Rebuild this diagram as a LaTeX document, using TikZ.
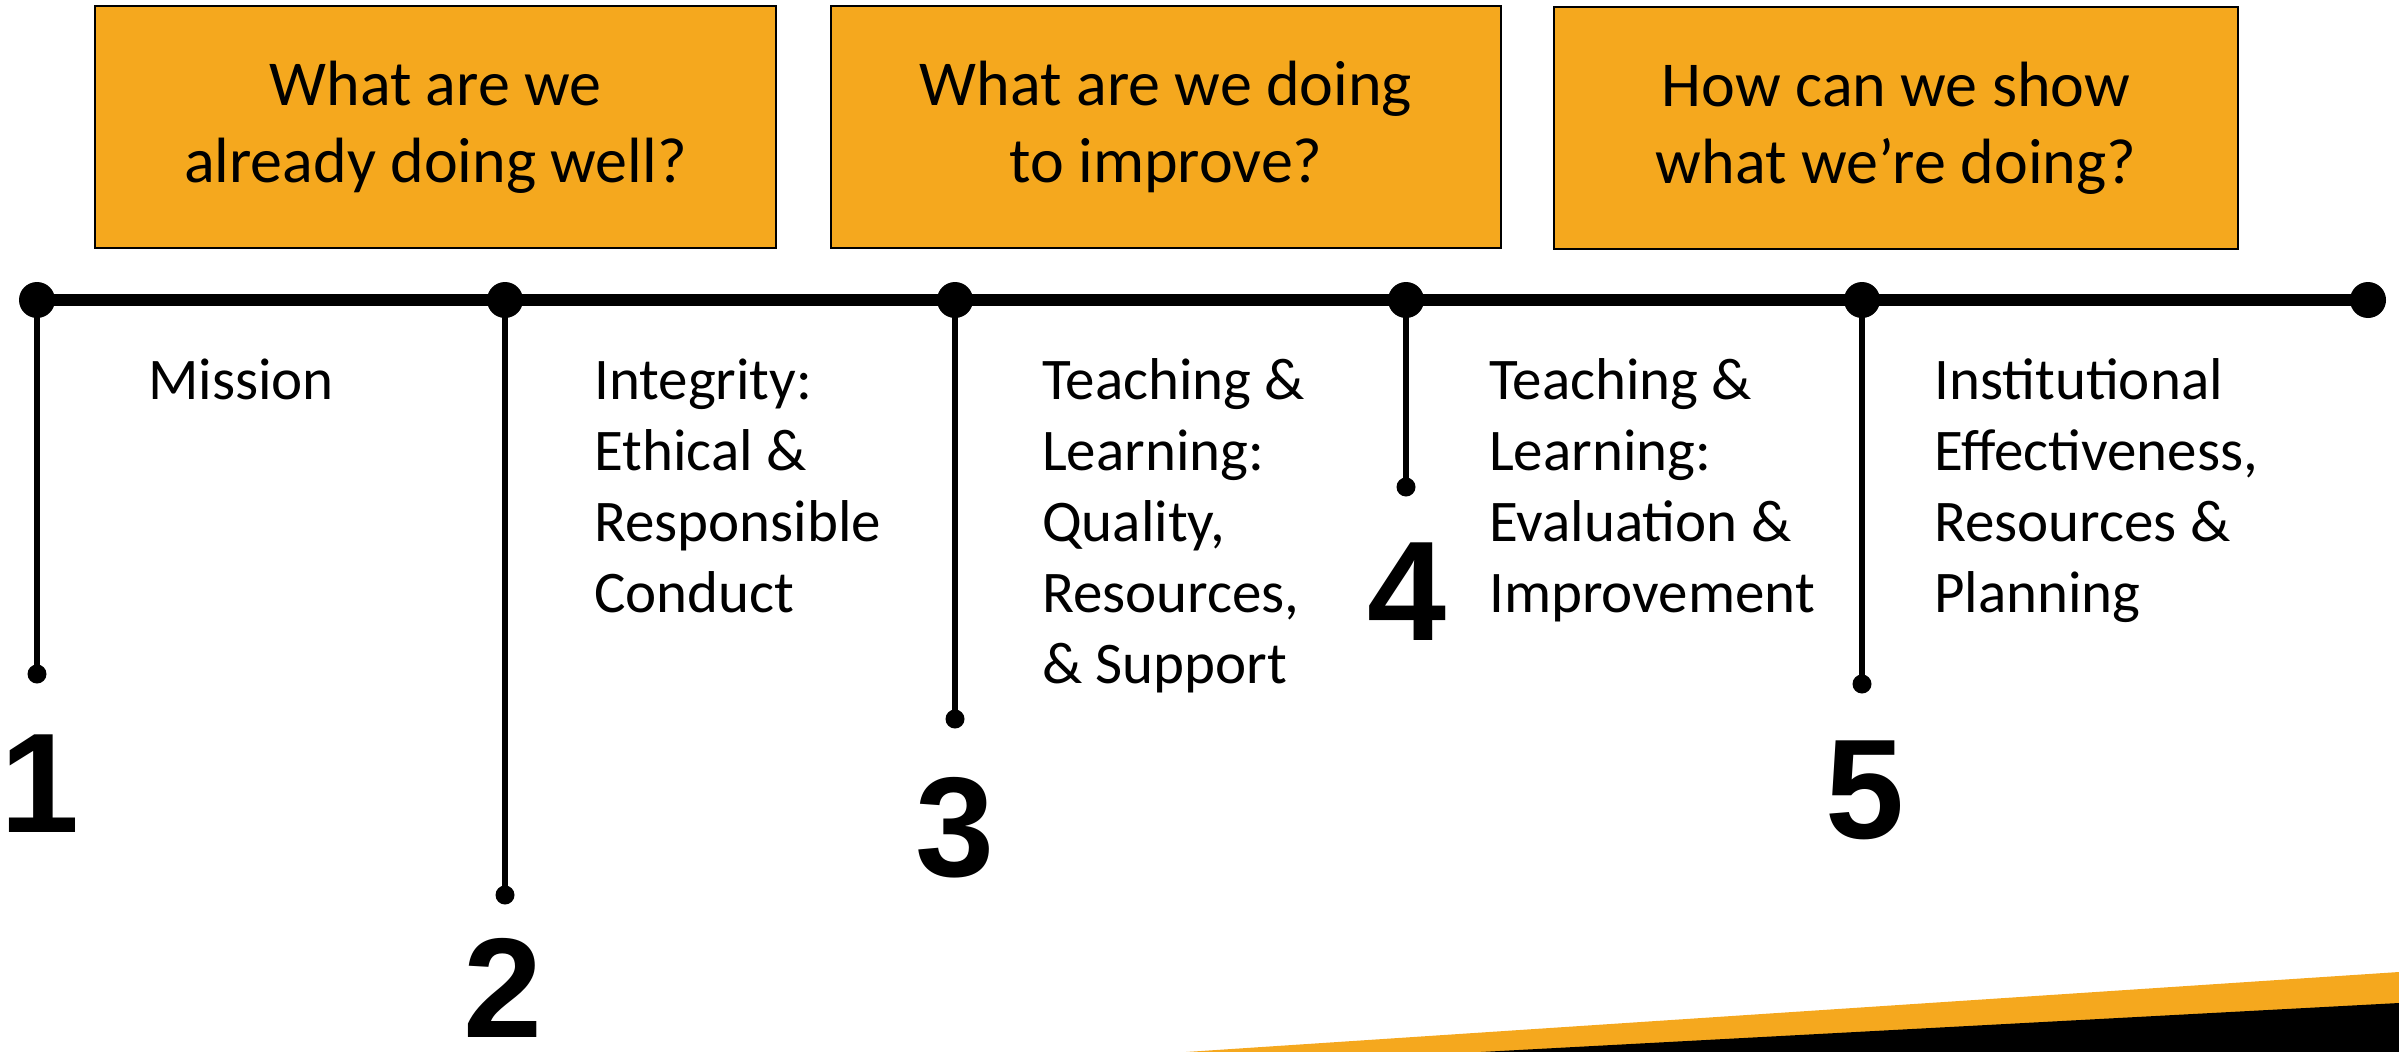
\documentclass[tikz,border=0pt]{standalone}
\usepackage{fontspec}
\setmainfont{Carlito}
\newfontfamily\numfont{Liberation Sans}
\definecolor{accorange}{HTML}{F5A81E}
\begin{document}
\begin{tikzpicture}[x=1pt,y=-1pt,
  qbox/.style={draw=black, line width=2pt, fill=accorange, align=center, minimum height=242pt, inner sep=0pt,
    font=\fontsize{64}{77}\selectfont},
  bigdot/.style={circle, fill=black, inner sep=0pt, minimum size=36pt},
  enddot/.style={circle, fill=black, inner sep=0pt, minimum size=19pt},
  body/.style={anchor=north west, align=left, inner sep=0pt, font=\fontsize{59}{71}\selectfont},
  num/.style={inner sep=0pt, font=\numfont\bfseries\fontsize{142}{142}\selectfont}]
\useasboundingbox (0,0) rectangle (2399,1052);
% bottom-right stripes
\fill[accorange] (1186,1052) -- (2399,972) -- (2399,1052) -- cycle;
\fill[black] (1481,1052) -- (2399,1003) -- (2399,1052) -- cycle;
% question boxes
\node[qbox, minimum width=681pt] (q1) at (435.5,127) {What are we\\already doing well?};
\node[qbox, minimum width=670pt] (q2) at (1166,127) {What are we doing\\to improve?};
\node[qbox, minimum width=684pt] (q3) at (1896,128) {How can we show\\what we’re doing?};
% timeline dots
\node[bigdot] (d0) at (37,300) {};
\node[bigdot] (d1) at (505,300) {};
\node[bigdot] (d2) at (955,300) {};
\node[bigdot] (d3) at (1406,300) {};
\node[bigdot] (d4) at (1862,300) {};
\node[bigdot] (d5) at (2368,300) {};
\draw[line width=12pt] (d0.center) -- (d5.center);
% stem ends
\node[enddot] (e1) at (37,674) {};
\node[enddot] (e2) at (505,895) {};
\node[enddot] (e3) at (955,719) {};
\node[enddot] (e4) at (1406,487) {};
\node[enddot] (e5) at (1862,684) {};
\foreach \a/\b in {d0/e1,d1/e2,d2/e3,d3/e4,d4/e5}
  \draw[line width=5.5pt] (\a.center) -- (\b.center);
% numbers
\node[num] (n1) at (40,784) {1};
\node[num] (n2) at (503,988) {2};
\node[num] (n3) at (955,828) {3};
\node[num] (n4) at (1407,592) {4};
\node[num] (n5) at (1865,790) {5};
% descriptions
\node[body] (t1) at (148,355) {\rule{0pt}{44pt}Mission};
\node[body] (t2) at (594,355) {\rule{0pt}{44pt}Integrity:\\Ethical \&\\Responsible\\Conduct};
\node[body] (t3) at (1042,355) {\rule{0pt}{44pt}Teaching \&\\Learning:\\Quality,\\Resources,\\\& Support};
\node[body] (t4) at (1489,355) {\rule{0pt}{44pt}Teaching \&\\Learning:\\Evaluation \&\\Improvement};
\node[body] (t5) at (1934,355) {\rule{0pt}{44pt}Institutional\\Effectiveness,\\Resources \&\\Planning};
\end{tikzpicture}
\end{document}
